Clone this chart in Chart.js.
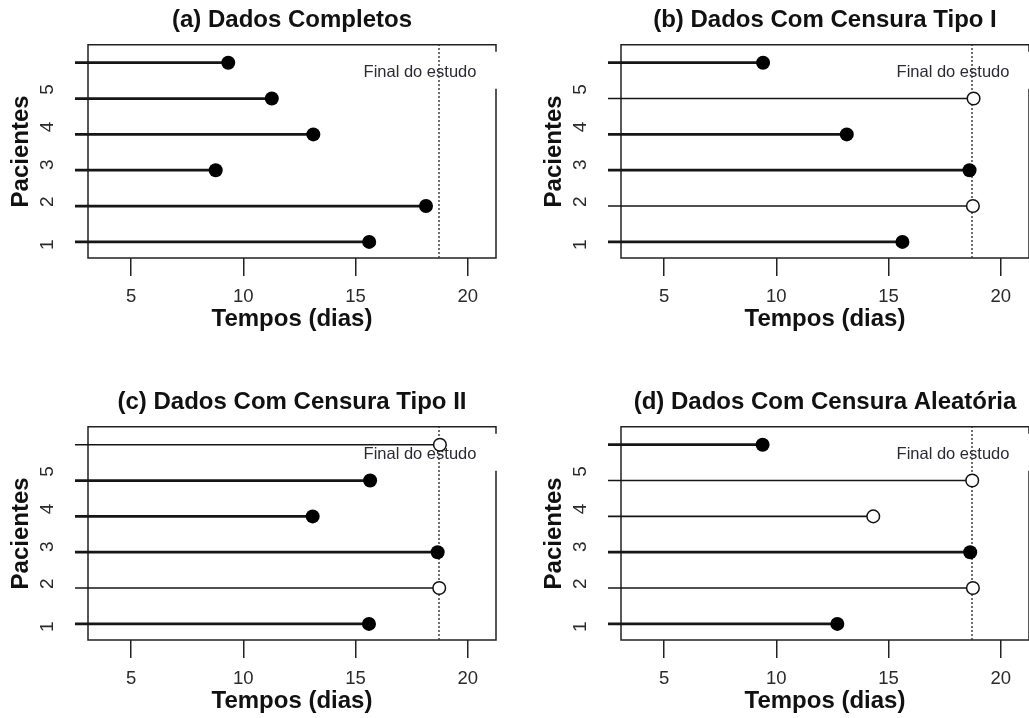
<!DOCTYPE html>
<html>
<head>
<meta charset="utf-8">
<script src="https://cdn.jsdelivr.net/npm/chart.js@4/dist/chart.umd.min.js"></script>
<style>
  html, body { margin: 0; padding: 0; background: #fff; overflow: hidden; width: 1029px; height: 718px; }
  .panel { position: absolute; }
</style>
</head>
<body>
<canvas id="pa" class="panel" width="515" height="360" style="left:0px;top:0px"></canvas>
<canvas id="pb" class="panel" width="515" height="360" style="left:533px;top:0px"></canvas>
<canvas id="pc" class="panel" width="515" height="360" style="left:0px;top:382px"></canvas>
<canvas id="pd" class="panel" width="515" height="360" style="left:533px;top:382px"></canvas>
<script>
// ---- data ----
const patients = [1, 2, 3, 4, 5, 6];
const yTickLabels = ['1', '2', '3', '4', '5'];
const yTickAt = [0.92, 2.12, 3.15, 4.21, 5.25];
const xTicks = [5, 10, 15, 20];
const startTime = 2.5;
const studyEnd = 18.72;
const studyEndLabel = 'Final do estudo';
const xTitle = 'Tempos (dias)';
const yTitle = 'Pacientes';

const titleA = '(a) Dados Completos';
const timesA = [15.61, 18.14, 8.77, 13.12, 11.27, 9.33];
const statusA = [1, 1, 1, 1, 1, 1];

const titleB = '(b) Dados Com Censura Tipo I';
const timesB = [15.62, 18.76, 18.61, 13.14, 18.79, 9.41];
const statusB = [1, 0, 1, 1, 0, 1];

const titleC = '(c) Dados Com Censura Tipo II';
const timesC = [15.6, 18.73, 18.66, 13.09, 15.65, 18.76];
const statusC = [1, 0, 1, 1, 1, 0];

const titleD = '(d) Dados Com Censura Aleatória';
const timesD = [12.72, 18.76, 18.64, 14.32, 18.73, 9.39];
const statusD = [1, 0, 1, 0, 0, 1];

// ---- drawing ----
const FONT = "'Liberation Sans', Arial, Helvetica, sans-serif";
const INK = '#161616';

const framePlugin = {
  id: 'frame',
  beforeDatasetsDraw(chart) {
    const { ctx, chartArea: a } = chart;
    ctx.save();
    ctx.strokeStyle = '#222';
    ctx.lineWidth = 1.5;
    ctx.beginPath();
    ctx.moveTo(a.right, a.top + 7);
    ctx.lineTo(a.right, a.top);
    ctx.lineTo(a.left, a.top);
    ctx.lineTo(a.left, a.bottom);
    ctx.lineTo(a.right, a.bottom);
    ctx.lineTo(a.right, a.top + 44);
    ctx.stroke();
    // annotation text
    ctx.fillStyle = '#2b2b35';
    ctx.font = '16.5px ' + FONT;
    ctx.textAlign = 'center';
    ctx.textBaseline = 'middle';
    ctx.fillText(studyEndLabel, a.right - 76, a.top + 28);
    ctx.restore();
  },
  afterDraw(chart) {
    const { ctx } = chart;
    const ys = chart.scales.y;
    ctx.save();
    ctx.fillStyle = '#2a2a2a';
    ctx.font = '19px ' + FONT;
    ctx.textAlign = 'center';
    ctx.textBaseline = 'middle';
    yTickLabels.forEach((lab, i) => {
      const py = ys.getPixelForValue(yTickAt[i]);
      ctx.save();
      ctx.translate(48, py);
      ctx.rotate(-Math.PI / 2);
      ctx.fillText(lab, 0, 0);
      ctx.restore();
    });
    ctx.restore();
  }
};

function makePanel(id, title, times, status) {
  const points = {
    type: 'scatter',
    data: patients.map((p, i) => ({ x: times[i], y: p })),
    pointRadius: status.map(s => s ? 7 : 6.3),
    pointBackgroundColor: status.map(s => s ? '#000' : '#fff'),
    pointBorderColor: '#111',
    pointBorderWidth: status.map(s => s ? 0 : 1.5),
    showLine: false,
    clip: false
  };
  const segs = patients.map((p, i) => ({
    type: 'line',
    data: [{ x: startTime, y: p }, { x: times[i], y: p }],
    borderColor: INK,
    borderWidth: status[i] ? 2.8 : 1.6,
    pointRadius: 0,
    clip: false
  }));
  const endLine = {
    type: 'line',
    data: [{ x: studyEnd, y: 0.55 }, { x: studyEnd, y: 6.5 }],
    borderColor: '#333',
    borderWidth: 1.4,
    borderDash: [2, 2],
    pointRadius: 0
  };
  new Chart(document.getElementById(id), {
    type: 'scatter',
    data: { datasets: [points, ...segs, endLine] },
    options: {
      responsive: false,
      animation: false,
      devicePixelRatio: 1,
      layout: { padding: { left: 0, right: 19, top: 0, bottom: 0 } },
      plugins: {
        legend: { display: false },
        tooltip: { enabled: false },
        title: {
          display: true,
          text: title,
          fullSize: false,
          color: '#111',
          font: { family: FONT, size: 24, weight: 'bold' },
          padding: { top: 6, bottom: 10 }
        }
      },
      scales: {
        x: {
          type: 'linear',
          min: 3.08,
          max: 21.26,
          afterBuildTicks: s => { s.ticks = xTicks.map(v => ({ value: v })); },
          afterFit: s => { s.height = 102; },
          border: { display: false },
          grid: { drawOnChartArea: false, drawTicks: true, tickLength: 18, color: '#222', lineWidth: 1.5 },
          ticks: { color: '#2a2a2a', font: { family: FONT, size: 18.5 }, padding: 10, maxRotation: 0 },
          title: {
            display: true, text: xTitle, color: '#111',
            font: { family: FONT, size: 24, weight: 'bold' },
            padding: { top: 0, bottom: 26 }
          }
        },
        y: {
          type: 'linear',
          min: 0.55,
          max: 6.5,
          afterFit: s => { s.width = 88; },
          border: { display: false },
          grid: { display: false },
          ticks: { display: false },
          title: {
            display: true, text: yTitle, color: '#111',
            font: { family: FONT, size: 24, weight: 'bold' },
            padding: { top: 7, bottom: 0 }
          }
        }
      }
    },
    plugins: [framePlugin]
  });
}

makePanel('pa', titleA, timesA, statusA);
makePanel('pb', titleB, timesB, statusB);
makePanel('pc', titleC, timesC, statusC);
makePanel('pd', titleD, timesD, statusD);
</script>
</body>
</html>
